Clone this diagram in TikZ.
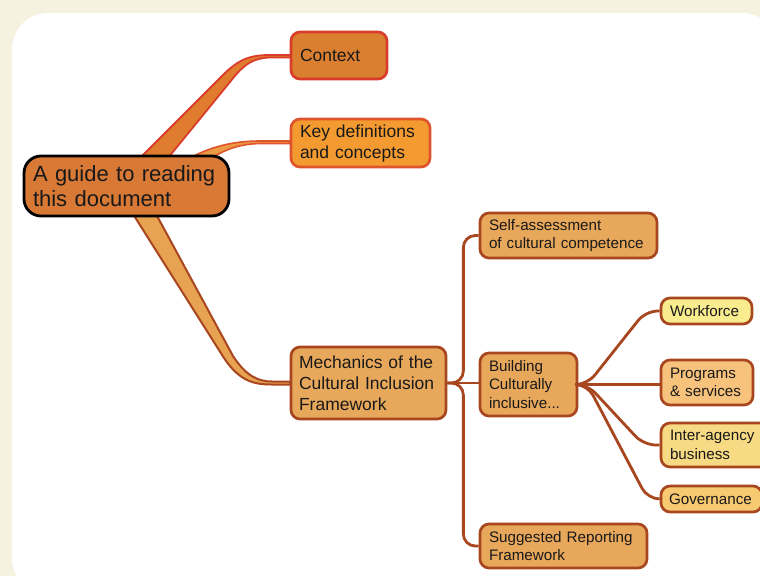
\documentclass[tikz,border=0pt]{standalone}
\usepackage{fontspec}
\setmainfont{Liberation Sans}
\usetikzlibrary{calc}
\definecolor{cream}{HTML}{F5F2E0}
\definecolor{ctxfill}{HTML}{DA7F30}
\definecolor{ctxline}{HTML}{D93C2A}
\definecolor{keyfill}{HTML}{F39B30}
\definecolor{keyline}{HTML}{E0542C}
\definecolor{rootfill}{HTML}{D87936}
\definecolor{midfill}{HTML}{E8A85B}
\definecolor{brown}{HTML}{A8461F}
\definecolor{wfill}{HTML}{F8EC8F}
\definecolor{pfill}{HTML}{F6C27C}
\definecolor{ifill}{HTML}{F7DA84}
\definecolor{gfill}{HTML}{F7C970}
\definecolor{wedgeA}{HTML}{E07C2E}
\definecolor{wedgeB}{HTML}{EB9A45}
\definecolor{wedgeC}{HTML}{E8A352}
\tikzset{
  box/.style={rounded corners=9pt, line width=2.7pt, inner ysep=0pt, align=left, text=black!90},
  lvA/.style={box, font=\fontsize{17.5}{21}\selectfont},
  lvB/.style={box, font=\fontsize{15.2}{18.5}\selectfont, draw=brown},
  link/.style={draw=brown, line width=2.8pt, rounded corners=12pt},
}
\begin{document}
\begin{tikzpicture}[x=1pt,y=-1pt]
\useasboundingbox (0,0) rectangle (760,576);
\fill[cream] (0,0) rectangle (760,576);
\fill[white, rounded corners=36pt] (12,13) rectangle (778,595);

% main wedges
\filldraw[fill=wedgeA, draw=ctxline, line width=1.8pt, line join=round]
  (140,158) -- (220,78) .. controls (238,59) and (250,55) .. (270,55) -- (290,55)
  -- (290,57.5) -- (270,57.5) .. controls (253,58) and (244,64) .. (230,82) -- (168,158) -- cycle;
\filldraw[fill=wedgeB, draw=keyline, line width=1.6pt, line join=round]
  (190,158) .. controls (212,146) and (235,141) .. (260,141) -- (290,141)
  -- (290,143.5) -- (260,143.5) .. controls (240,144) and (226,149) .. (212,158) -- cycle;
\filldraw[fill=wedgeC, draw=brown, line width=2pt, line join=round]
  (133,214) -- (224,358) .. controls (240,382) and (255,384.5) .. (272,384.5) -- (290,384.5)
  -- (290,381.5) -- (272,381.5) .. controls (258,381.5) and (246,376) .. (233,356) -- (156,214) -- cycle;

% nodes
\node[box, draw=black, fill=rootfill, rounded corners=17pt, line width=2.8pt,
      minimum width=205, minimum height=60, inner xsep=9, text width=187,
      font=\fontsize{22}{25}\selectfont] (root) at (126.5,186) {A guide to reading\\this document};
\node[lvA, draw=ctxline, fill=ctxfill, minimum width=96, minimum height=47, inner xsep=9, text width=78]
  (ctx) at (339,55.5) {Context};
\node[lvA, draw=keyline, fill=keyfill, minimum width=139, minimum height=48, inner xsep=9, text width=121]
  (key) at (360.5,143) {Key definitions\\and concepts};
\node[lvA, draw=brown, fill=midfill, minimum width=155, minimum height=72, inner xsep=8, text width=139]
  (mech) at (368.5,383) {Mechanics of the\\Cultural Inclusion\\Framework};
\node[lvB, fill=midfill, minimum width=177, minimum height=45, inner xsep=9, text width=159]
  (self) at (568.5,235.5) {Self-assessment\\of cultural competence};
\node[lvB, fill=midfill, minimum width=97, minimum height=63, inner xsep=9, text width=79]
  (build) at (528.5,384.5) {Building\\Culturally\\inclusive...};
\node[lvB, fill=midfill, minimum width=167, minimum height=44, inner xsep=9, text width=149]
  (sugg) at (563.5,546) {Suggested Reporting\\Framework};
\node[lvB, fill=wfill, minimum width=91, minimum height=26, inner xsep=9, text width=73]
  (work) at (706.5,311) {Workforce};
\node[lvB, fill=pfill, minimum width=92, minimum height=45, inner xsep=9, text width=74]
  (prog) at (707,382.5) {Programs\\\& services};
\node[lvB, fill=ifill, minimum width=110, minimum height=44, inner xsep=9, text width=92]
  (inter) at (716,445) {Inter-agency\\business};
\node[lvB, fill=gfill, minimum width=101, minimum height=26, inner xsep=8, text width=85]
  (gov) at (711.5,499) {Governance};

% connectors level 2
\path[link] (mech.east) -- ($(mech.east)+(16,0)$) |- (self.west);
\path[link] (mech.east) -- ($(mech.east)+(16,0)$) |- (sugg.west);
\path[link] (mech.east) -- (mech.east -| build.west);
\path[link] (build.east) -- ($(build.east)+(9,0)$) -- ($(work.west)+(-14,0)$) -- (work.west);
\path[link] (build.east) -- (build.east -| prog.west);
\path[link] (build.east) -- ($(build.east)+(9,0)$) -- ($(inter.west)+(-16,0)$) -- (inter.west);
\path[link] (build.east) -- ($(build.east)+(9,0)$) -- ($(gov.west)+(-12,0)$) -- (gov.west);
\end{tikzpicture}
\end{document}
